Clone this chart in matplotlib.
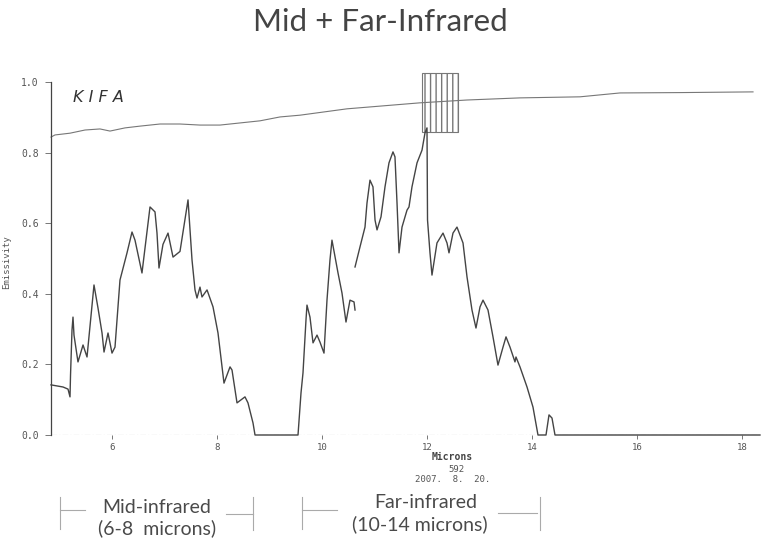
import numpy as np
import matplotlib.pyplot as plt
from matplotlib.patches import Rectangle

# emissivity curve of the sample (microns, emissivity); nan = break in trace
sample_x = [4.838, 4.952, 5.067, 5.162, 5.200, 5.210, 5.238, 5.257, 5.276, 5.352,
            5.448, 5.524, 5.657, 5.733, 5.810, 5.848, 5.924, 6.000, 6.057, 6.152,
            6.286, 6.381, 6.438, 6.571, 6.629, 6.724, 6.819, 6.857, 6.895, 6.971,
            7.067, 7.162, 7.295, 7.448, 7.524, 7.581, 7.619, 7.676, 7.714, 7.810,
            7.924, 8.019, 8.133, 8.248, 8.286, 8.381, 8.533, 8.590, 8.686, 8.724,
            9.543, 9.600, 9.638, 9.695, 9.714, 9.771, 9.829, 9.905, 9.962, 10.038,
            10.095, 10.152, 10.190, 10.305, 10.381, 10.457, 10.533, 10.610, 10.629, 10.629,
            10.629, 10.724, 10.819, 10.857, 10.914, 10.971, 11.010, 11.048, 11.124, 11.200,
            11.276, 11.352, 11.390, 11.429, 11.467, 11.524, 11.619, 11.657, 11.714, 11.810,
            11.905, 11.962, 12.000, 12.010, 12.057, 12.095, 12.190, 12.305, 12.381, 12.419,
            12.495, 12.571, 12.686, 12.762, 12.857, 12.933, 13.010, 13.067, 13.162, 13.257,
            13.352, 13.448, 13.505, 13.581, 13.676, 13.695, 13.771, 13.905, 14.019, 14.114,
            14.267, 14.324, 14.381, 14.438, 18.343]
sample_y = [0.142, 0.139, 0.136, 0.130, 0.108, 0.170, 0.297, 0.334, 0.283, 0.207,
            0.255, 0.221, 0.425, 0.360, 0.289, 0.235, 0.289, 0.232, 0.249, 0.439,
            0.516, 0.575, 0.552, 0.459, 0.530, 0.646, 0.632, 0.572, 0.473, 0.540,
            0.572, 0.504, 0.520, 0.666, 0.496, 0.411, 0.388, 0.419, 0.391, 0.411,
            0.363, 0.289, 0.147, 0.193, 0.184, 0.091, 0.108, 0.091, 0.034, 0.000,
            0.000, 0.119, 0.176, 0.326, 0.368, 0.334, 0.261, 0.283, 0.263, 0.232,
            0.382, 0.496, 0.552, 0.459, 0.402, 0.320, 0.382, 0.377, 0.354, np.nan,
            0.476, 0.533, 0.589, 0.657, 0.722, 0.703, 0.609, 0.581, 0.618, 0.703,
            0.771, 0.802, 0.788, 0.657, 0.516, 0.589, 0.637, 0.646, 0.703, 0.771,
            0.807, 0.856, 0.870, 0.609, 0.516, 0.453, 0.544, 0.572, 0.544, 0.516,
            0.572, 0.589, 0.544, 0.448, 0.354, 0.303, 0.363, 0.382, 0.354, 0.278,
            0.198, 0.249, 0.278, 0.249, 0.207, 0.221, 0.193, 0.136, 0.079, 0.000,
            0.000, 0.057, 0.048, 0.000, 0.000]

# upper (reference) curve
ref_x = [4.838, 4.914, 5.200, 5.486, 5.771, 5.962, 6.248, 6.533, 6.914, 7.295,
         7.676, 8.057, 8.438, 8.819, 9.200, 9.581, 10.476, 11.867, 12.762, 13.771,
         14.914, 15.676, 16.819, 18.210]
ref_y = [0.844, 0.850, 0.855, 0.864, 0.867, 0.861, 0.870, 0.875, 0.881, 0.881,
         0.878, 0.878, 0.884, 0.890, 0.901, 0.906, 0.924, 0.941, 0.949, 0.955,
         0.958, 0.969, 0.970, 0.972]

x_ticks = [6, 8, 10, 12, 14, 16, 18]
y_ticks = [0.0, 0.2, 0.4, 0.6, 0.8, 1.0]
y_tick_labels = ['0.0', '0.2', '0.4', '0.6', '0.8', '1.0']

mono = 'DejaVu Sans Mono'
ink = '#444444'

fig = plt.figure(figsize=(7.68, 5.47), dpi=100)
ax = fig.add_axes([51 / 768, 112 / 547, 709 / 768, 353 / 547])

ax.plot(sample_x, sample_y, color=ink, lw=1.0, clip_on=False)
ax.plot(ref_x, ref_y, color='#777777', lw=0.8, clip_on=False)
ax.axhline(0, color='#999999', lw=0.8, ls=(0, (5, 2, 1, 2)), zorder=0)

# scanned stamp box near the 12 micron peak
ax.add_patch(Rectangle((11.905, 0.858), 0.685, 0.167, fill=False, hatch='|||',
                       edgecolor='#777777', lw=0.8, clip_on=False))

ax.set_xlim(4.838, 18.343)
ax.set_ylim(0, 1)
for s in ['top', 'right', 'bottom']:
    ax.spines[s].set_visible(False)
ax.spines['left'].set_color(ink)
ax.spines['left'].set_linewidth(0.9)

ax.set_xticks(x_ticks)
ax.set_xticklabels([str(t) for t in x_ticks], fontfamily=mono, fontsize=6.5, color='#555555')
ax.set_yticks(y_ticks)
ax.set_yticklabels(y_tick_labels, fontfamily=mono, fontsize=7, color='#555555')
ax.tick_params(axis='x', length=3, width=0.7, color='#777777', pad=3)
ax.tick_params(axis='y', length=4, width=0.7, color='#777777', pad=5)

ax.text(-0.063, 0.49, 'Emissivity', rotation=90, ha='center', va='center',
        fontfamily=mono, fontsize=6.5, color='#555555', transform=ax.transAxes)
ax.text(5.257, 0.943, 'K I F A', style='italic', fontsize=11.5, color='#333333',
        ha='left', va='baseline', family='DejaVu Sans')

ax.text(12.48, -0.063, 'Microns', ha='center', va='center', fontfamily=mono,
        fontsize=7, fontweight='bold', color='#444444')
ax.text(12.57, -0.099, '592', ha='center', va='center', fontfamily=mono,
        fontsize=6.5, color='#555555')
ax.text(12.49, -0.127, '2007.  8.  20.', ha='center', va='center', fontfamily=mono,
        fontsize=6.5, color='#555555')

# band brackets under the chart
br = dict(color='#aaaaaa', lw=0.8, clip_on=False)
ax.plot([5.010, 5.010], [-0.176, -0.265], **br)
ax.plot([5.010, 5.486], [-0.212, -0.212], **br)
ax.plot([8.171, 8.686], [-0.224, -0.224], **br)
ax.plot([8.686, 8.686], [-0.176, -0.269], **br)
ax.plot([9.619, 9.619], [-0.176, -0.265], **br)
ax.plot([9.619, 10.286], [-0.212, -0.212], **br)
ax.plot([13.352, 14.095], [-0.221, -0.221], **br)
ax.plot([14.152, 14.152], [-0.176, -0.269], **br)

lab = dict(ha='center', va='center', fontsize=14, color='#4a4a4a',
           family=['Lato', 'DejaVu Sans'])
ax.text(6.857, -0.204, 'Mid-infrared', **lab)
ax.text(6.857, -0.263, '(6-8  microns)', **lab)
ax.text(11.98, -0.190, 'Far-infrared', **lab)
ax.text(11.87, -0.252, '(10-14 microns)', **lab)

fig.text(0.495, 1 - 22 / 547, 'Mid + Far-Infrared', ha='center', va='center',
         fontsize=22.5, color='#444444', family=['Lato', 'DejaVu Sans'])

fig.savefig('out.png', dpi=100)
